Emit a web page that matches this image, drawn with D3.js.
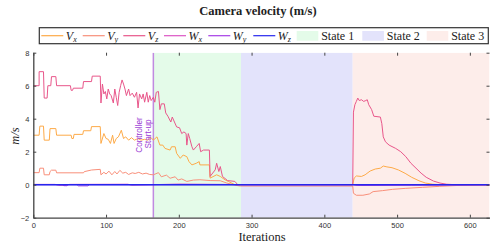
<!DOCTYPE html>
<html>
<head>
<meta charset="utf-8">
<script src="https://cdn.jsdelivr.net/npm/d3@7"></script>
<style>
  body { margin: 0; background: #fff; }
  svg { display: block; }
</style>
</head>
<body>
<div id="chart"></div>
<script>
// series values, [iteration, value]
const vx = [[0,3.0],[8,3.0],[9,3.55],[14,3.55],[15,2.7],[22,2.7],[23,3.4],[31,3.4],[32,3.0],[52,3.0],[53,2.8],[55,2.8],[56,3.05],[68,3.05],[69,3.27],[79,3.27],[80,3.52],[92,3.52],[93,2.5],[97,3.1],[100,2.8],[103,2.75],[106,2.5],[109,3.0],[111,2.5],[114,2.8],[117,2.9],[121,3.3],[124,2.8],[127,2.9],[131,2.7],[135,2.85],[139,2.7],[144,2.8],[148,2.7],[153,2.75],[157,2.7],[162,2.85],[165,2.7],[170,2.9],[174,2.4],[178,2.4],[181,2.2],[188,2.1],[190,2.3],[195,2.3],[197,1.9],[202,1.6],[206,1.8],[211,1.7],[214,1.4],[218,1.2],[224,1.3],[228,1.4],[229,1.2],[242,1.2],[243,0.4],[252,0.6],[257,0.5],[264,0.28],[268,0.2],[277,0.0],[439,0],[441,0.4],[444,0.53],[451,0.5],[456,0.6],[463,0.83],[470,0.95],[477,1.0],[481,1.13],[486,1.08],[493,1.03],[502,0.89],[511,0.69],[520,0.45],[530,0.24],[539,0.1],[549,0.03],[560,0],[627,0]]
const vy = [[0,0.73],[8,0.73],[9,1.0],[14,1.0],[15,0.6],[22,0.6],[23,0.8],[25,0.88],[31,0.88],[32,0.72],[69,0.72],[70,0.79],[80,0.89],[92,0.93],[93,0.6],[97,0.75],[100,0.65],[104,0.82],[108,0.6],[112,0.8],[115,0.65],[119,0.87],[123,0.7],[127,0.75],[131,0.62],[136,0.72],[140,0.68],[145,0.75],[150,0.65],[155,0.7],[160,0.62],[165,0.6],[172,0.73],[176,0.48],[183,0.58],[188,0.39],[195,0.48],[199,0.28],[204,0.35],[211,0.2],[220,0.28],[229,0.3],[243,0.25],[257,0.24],[266,0.1],[280,-0.05],[285,-0.08],[439,-0.08],[440,-0.52],[444,-0.64],[453,-0.64],[462,-0.56],[467,-0.42],[480,-0.36],[494,-0.28],[512,-0.22],[535,-0.16],[558,-0.1],[581,-0.05],[627,-0.03]]
const vz = [[0,6.0],[8,6.0],[8,6.85],[14,6.85],[15,5.25],[19,5.25],[20,6.0],[24,6.0],[25,6.55],[31,6.55],[32,6.0],[51,6.0],[52,5.72],[54,5.72],[55,5.85],[68,5.85],[69,6.25],[80,6.25],[81,6.58],[92,6.58],[93,4.95],[95,6.1],[97,5.5],[99,5.65],[101,5.2],[103,5.8],[105,5.5],[107,5.4],[110,4.95],[112,5.8],[114,5.3],[116,4.8],[118,5.6],[120,6.0],[122,6.35],[124,6.1],[126,5.8],[128,5.4],[131,5.8],[133,5.4],[136,5.55],[139,5.3],[142,5.6],[144,4.65],[146,5.5],[149,5.2],[151,5.5],[153,5.0],[156,5.6],[158,5.0],[160,5.4],[162,5.1],[165,5.3],[167,5.0],[169,5.6],[172,5.65],[174,4.55],[176,4.9],[180,4.9],[182,4.35],[185,4.15],[189,3.8],[191,4.1],[194,3.8],[197,3.5],[201,3.45],[204,3.1],[207,3.2],[210,3.1],[211,2.4],[213,3.1],[215,2.8],[218,2.3],[220,2.1],[224,2.3],[228,2.5],[230,2.0],[234,2.1],[242,2.1],[243,0.5],[250,0.9],[252,1.3],[255,0.8],[257,1.1],[260,0.5],[267,0.25],[277,0.2],[281,0.0],[439,0],[440,4.4],[442,4.85],[444,5.05],[446,5.25],[448,5.1],[451,5.15],[454,5.05],[457,5.1],[459,5.15],[461,4.85],[465,4.55],[468,4.15],[477,4.1],[479,3.7],[481,2.9],[484,2.6],[489,2.4],[498,2.2],[505,2.0],[512,1.7],[519,1.3],[526,1.0],[533,0.7],[540,0.45],[550,0.22],[559,0.1],[568,0.03],[580,0],[627,0]]
const wx = [[0,0.02],[30,0.02],[35,-0.04],[45,-0.04],[50,0.02],[130,0.03],[135,-0.03],[200,0.04],[260,0.02],[285,0],[440,0],[445,-0.05],[520,-0.03],[627,0]]
const wy = [[0,0],[40,0],[42,-0.06],[46,-0.06],[48,0],[60,0],[62,-0.07],[75,-0.07],[77,0],[285,0],[440,0],[450,-0.04],[500,-0.02],[627,0]]
const wz = [[0,0],[627,0]]

const seriesNames = ['x', 'y', 'z', 'x', 'y', 'z']
const seriesKinds = ['V', 'V', 'V', 'W', 'W', 'W']
const seriesColors = ['#fdaa48', '#f88f7a', '#e8568a', '#dc55c4', '#a63ee6', '#2626ee']
const seriesData = [vx, vy, vz, wx, wy, wz]

// state regions
const stateNames = ['State 1', 'State 2', 'State 3']
const stateStart = [165, 285.5, 439]
const stateEnd = [285.5, 439, 627]
const stateColors = ['#e4fbe9', '#e3e3fb', '#fdedea']

const xTicks = [0, 100, 200, 300, 400, 500, 600]
const yTicks = [-2, 0, 2, 4, 6, 8]
const startUpAt = 165

const W = 490, H = 247
const svg = d3.select('#chart').append('svg')
  .attr('width', W).attr('height', H)

const x = d3.scaleLinear().domain([0, 627]).range([33.3, 489.5])
const y = d3.scaleLinear().domain([-2, 8]).range([217.7, 52.7])

svg.append('defs').append('clipPath').attr('id', 'clip')
  .append('rect')
  .attr('x', x(0)).attr('y', y(8))
  .attr('width', x(627) - x(0)).attr('height', y(-2) - y(8))

const plot = svg.append('g').attr('clip-path', 'url(#clip)')

plot.selectAll('rect.state')
  .data(stateNames)
  .enter()
  .append('rect')
  .attr('class', 'state')
  .attr('x', (d, i) => x(stateStart[i]))
  .attr('width', (d, i) => x(stateEnd[i]) - x(stateStart[i]))
  .attr('y', y(8))
  .attr('height', y(-2) - y(8))
  .attr('fill', (d, i) => stateColors[i])

plot.append('line')
  .attr('x1', x(startUpAt)).attr('x2', x(startUpAt))
  .attr('y1', y(8)).attr('y2', y(-2))
  .attr('stroke', '#c08ae0')
  .attr('stroke-width', 1.5)

const line = d3.line()
  .x((d) => x(d[0]))
  .y((d) => y(d[1]))

plot.selectAll('path.series')
  .data(seriesData)
  .enter()
  .append('path')
  .attr('class', 'series')
  .attr('d', line)
  .attr('fill', 'none')
  .attr('stroke', (d, i) => seriesColors[i])
  .attr('stroke-width', (d, i) => i === 5 ? 1.6 : 1)
  .attr('stroke-linejoin', 'round')

// controller start-up note
const note = svg.append('g')
  .attr('font-family', 'Liberation Sans, Arial, sans-serif')
  .attr('font-size', 8.2)
  .attr('fill', '#9a3ad4')
  .attr('text-anchor', 'middle')
note.append('text').attr('transform', 'translate(142,135) rotate(-90)').text('Controller')
note.append('text').attr('transform', 'translate(151,134) rotate(-90)').text('Start-up')

// axes
const axisFont = (g) => g.selectAll('text')
  .attr('font-family', 'Liberation Sans, Arial, sans-serif')
  .attr('font-size', 7.5)
  .attr('fill', '#333')

svg.append('g')
  .attr('transform', `translate(0,${y(-2)})`)
  .call(d3.axisBottom(x).tickValues(xTicks).tickSizeInner(-3).tickSizeOuter(0).tickPadding(5))
  .call(axisFont)
  .call((g) => g.select('.domain').attr('stroke', '#444').attr('stroke-width', 1.3))
  .call((g) => g.selectAll('.tick line').attr('stroke', '#444'))

svg.append('g')
  .attr('transform', `translate(${x(0)},0)`)
  .call(d3.axisLeft(y).tickValues(yTicks).tickSizeInner(-3).tickSizeOuter(0).tickPadding(4))
  .call(axisFont)
  .call((g) => g.select('.domain').attr('stroke', '#444').attr('stroke-width', 1.3))
  .call((g) => g.selectAll('.tick line').attr('stroke', '#444'))

svg.append('g')
  .attr('transform', `translate(0,${y(8)})`)
  .call(d3.axisTop(x).tickValues(xTicks).tickSizeInner(-3).tickSizeOuter(0).tickFormat(''))
  .call((g) => g.select('.domain').remove())
  .call((g) => g.selectAll('.tick line').attr('stroke', '#444'))

svg.append('g')
  .attr('transform', `translate(${x(627)},0)`)
  .call(d3.axisRight(y).tickValues(yTicks).tickSizeInner(-3).tickSizeOuter(0).tickFormat(''))
  .call((g) => g.select('.domain').remove())
  .call((g) => g.selectAll('.tick line').attr('stroke', '#444'))

// titles
svg.append('text')
  .attr('x', 258).attr('y', 15)
  .attr('text-anchor', 'middle')
  .attr('font-family', 'Liberation Serif, serif')
  .attr('font-weight', 'bold')
  .attr('font-size', 12.5)
  .attr('fill', '#222')
  .text('Camera velocity (m/s)')

svg.append('text')
  .attr('x', 262).attr('y', 240.5)
  .attr('text-anchor', 'middle')
  .attr('font-family', 'Liberation Serif, serif')
  .attr('font-size', 12.5)
  .attr('fill', '#222')
  .text('Iterations')

svg.append('text')
  .attr('transform', 'translate(19,136) rotate(-90)')
  .attr('text-anchor', 'middle')
  .attr('font-family', 'Liberation Serif, serif')
  .attr('font-style', 'italic')
  .attr('font-size', 12.5)
  .attr('fill', '#222')
  .text('m/s')

// legend
const legend = svg.append('g')
legend.append('rect')
  .attr('x', 39.3).attr('y', 27.7)
  .attr('width', 449).attr('height', 16)
  .attr('fill', '#fff')
  .attr('stroke', '#333')
  .attr('stroke-width', 1.2)

const lineX = [41.3, 82.7, 123.3, 164, 208.3, 253.3]
const ly = 35.7
seriesNames.forEach((n, i) => {
  legend.append('line')
    .attr('x1', lineX[i]).attr('x2', lineX[i] + 22)
    .attr('y1', ly).attr('y2', ly)
    .attr('stroke', seriesColors[i])
    .attr('stroke-width', 1.2)
  const t = legend.append('text')
    .attr('x', lineX[i] + 24.5).attr('y', ly + 4)
    .attr('font-family', 'Liberation Serif, serif')
    .attr('font-style', 'italic')
    .attr('font-size', 12)
    .attr('fill', '#222')
  t.append('tspan').text(seriesKinds[i])
  t.append('tspan').attr('font-size', 8).attr('dy', 1.8).text(n)
})

const swatchX = [296.7, 362.3, 426.7]
stateNames.forEach((n, i) => {
  legend.append('rect')
    .attr('x', swatchX[i]).attr('y', 31)
    .attr('width', 21.6).attr('height', 9.7)
    .attr('fill', stateColors[i])
  legend.append('text')
    .attr('x', swatchX[i] + 24.5).attr('y', ly + 4)
    .attr('font-family', 'Liberation Serif, serif')
    .attr('font-size', 12)
    .attr('fill', '#222')
    .text(n)
})
</script>
</body>
</html>
